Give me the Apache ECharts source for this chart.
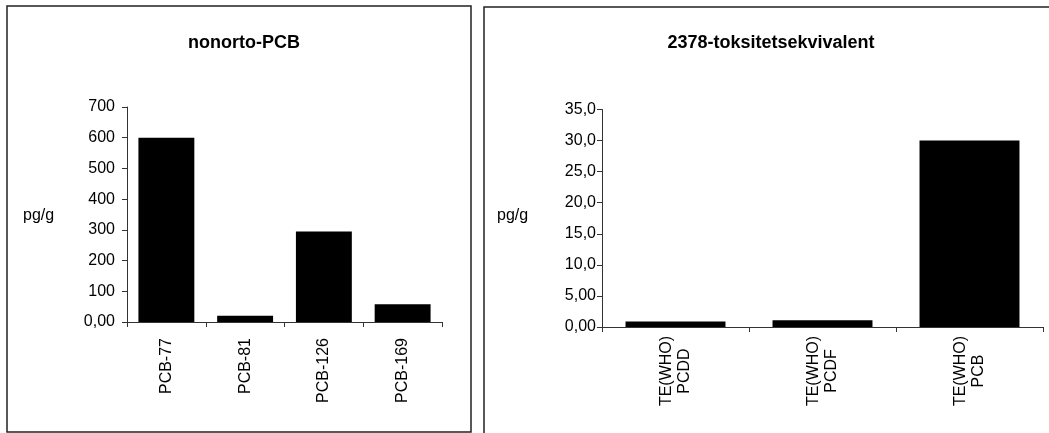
<!DOCTYPE html>
<html>
<head>
<meta charset="utf-8">
<script src="https://cdn.jsdelivr.net/npm/echarts@6/dist/echarts.min.js"></script>
<style>
html,body{margin:0;padding:0;background:#fff;}
#c{width:1049px;height:433px;}
</style>
</head>
<body>
<div id="c"></div>
<script>
// ---- data ----
const leftTitle = 'nonorto-PCB';
const leftCategories = ['PCB-77', 'PCB-81', 'PCB-126', 'PCB-169'];
const leftValues = [600, 20, 295, 58];
const leftTickLabels = ['0,00', '100', '200', '300', '400', '500', '600', '700'];

const rightTitle = '2378-toksitetsekvivalent';
const rightCategories = ['TE(WHO)\nPCDD', 'TE(WHO)\nPCDF', 'TE(WHO)\nPCB'];
const rightValues = [0.9, 1.1, 30.0];
const rightTickLabels = ['0,00', '5,00', '10,0', '15,0', '20,0', '25,0', '30,0', '35,0'];

const unitLabel = 'pg/g';

// ---- chart ----
const FONT = '"Liberation Sans", Arial, sans-serif';
const axisColor = '#333';
const chart = echarts.init(document.getElementById('c'), null, {renderer: 'canvas'});

function yAxisCfg(max, interval, labels, margin) {
  return {
    type: 'value', min: 0, max: max, interval: interval,
    axisLine: {show: true, lineStyle: {color: axisColor, width: 1}},
    axisTick: {show: true, length: 5, lineStyle: {color: axisColor}},
    splitLine: {show: false},
    axisLabel: {
      margin: margin, color: '#000', fontFamily: FONT, fontSize: 16,
      formatter: function (v) { return labels[Math.round(v / interval)]; }
    }
  };
}

chart.setOption({
  animation: false,
  backgroundColor: '#fff',
  title: [
    {text: leftTitle, left: 239, top: 29, textAlign: 'center',
     textStyle: {fontFamily: FONT, fontSize: 18, fontWeight: 'bold', color: '#000'}},
    {text: rightTitle, left: 766, top: 29, textAlign: 'center',
     textStyle: {fontFamily: FONT, fontSize: 18, fontWeight: 'bold', color: '#000'}}
  ],
  grid: [
    {left: 127, top: 107, width: 315, height: 215, containLabel: false},
    {left: 602, top: 109.5, width: 441, height: 217.5, containLabel: false}
  ],
  xAxis: [
    {
      type: 'category', gridIndex: 0, data: leftCategories,
      axisLine: {lineStyle: {color: axisColor, width: 1}},
      axisTick: {show: true, length: 5, alignWithLabel: false, lineStyle: {color: axisColor}},
      axisLabel: {rotate: 90, margin: 16, color: '#000', fontFamily: FONT, fontSize: 16, interval: 0}
    },
    {
      type: 'category', gridIndex: 1, data: rightCategories,
      axisLine: {lineStyle: {color: axisColor, width: 1}},
      axisTick: {show: true, length: 5, lineStyle: {color: axisColor}},
      axisLabel: {rotate: 90, margin: 44, align: 'center', verticalAlign: 'middle',
                  lineHeight: 18, color: '#000', fontFamily: FONT, fontSize: 16, interval: 0}
    }
  ],
  yAxis: [
    Object.assign(yAxisCfg(700, 100, leftTickLabels, 12), {gridIndex: 0}),
    Object.assign(yAxisCfg(35, 5, rightTickLabels, 6), {gridIndex: 1})
  ],
  series: [
    {type: 'bar', xAxisIndex: 0, yAxisIndex: 0, data: leftValues,
     barCategoryGap: '29%', itemStyle: {color: '#000'}},
    {type: 'bar', xAxisIndex: 1, yAxisIndex: 1, data: rightValues,
     barCategoryGap: '32%', itemStyle: {color: '#000'}}
  ],
  graphic: [
    {type: 'rect', shape: {x: 7, y: 6, width: 464, height: 426},
     style: {fill: 'none', stroke: '#222', lineWidth: 1.5}, silent: true},
    {type: 'rect', shape: {x: 484, y: 7, width: 600, height: 460},
     style: {fill: 'none', stroke: '#222', lineWidth: 1.5}, silent: true},
    {type: 'text', left: 23, top: 208,
     style: {text: unitLabel, fontFamily: FONT, fontSize: 16, fill: '#000'}},
    {type: 'text', left: 497, top: 208,
     style: {text: unitLabel, fontFamily: FONT, fontSize: 16, fill: '#000'}}
  ]
});
</script>
</body>
</html>
